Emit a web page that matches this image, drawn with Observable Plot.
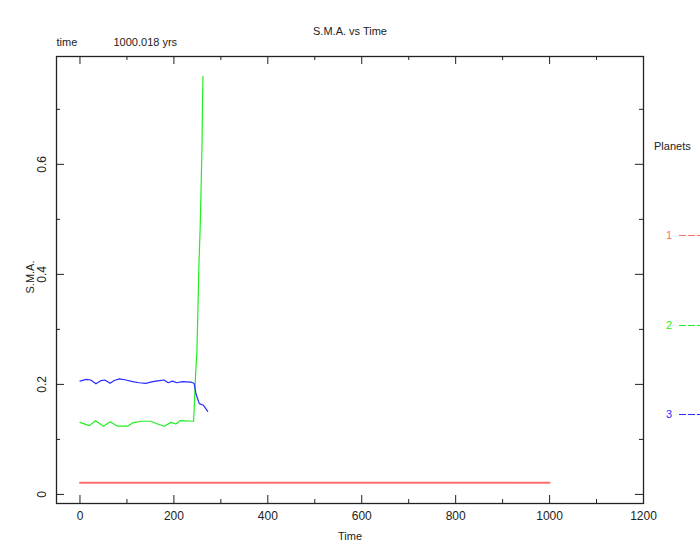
<!DOCTYPE html>
<html>
<head>
<meta charset="utf-8">
<script src="https://cdn.jsdelivr.net/npm/d3@7"></script>
<script src="https://cdn.jsdelivr.net/npm/@observablehq/plot@0.6"></script>
<style>
  body { margin: 0; background: #fff; }
  #wrap { position: relative; width: 700px; height: 560px; font-family: "Liberation Sans", Arial, sans-serif; }
  #legend { position: absolute; left: 0; top: 0; width: 700px; height: 560px; pointer-events: none; font-size: 11px; color: #222; }
  .lg { position: absolute; line-height: 12px; }
  .dash { position: absolute; }
</style>
</head>
<body>
<div id="wrap"><div id="legend"></div></div>
<script>
// ---- data ----
const planets = ["1", "2", "3"];
const planetColors = ["#ff6e6e", "#22ee22", "#2a2aff"];

const p1Time = [0, 250, 500, 750, 1000];
const p1Sma  = [0.021, 0.021, 0.021, 0.021, 0.021];

const p2Time = [0, 20, 33, 50, 64, 80, 101, 112, 130, 151, 165, 179, 194, 204, 213, 242, 244, 246, 249, 251, 253, 256, 258, 260, 261, 262];
const p2Sma  = [0.131, 0.125, 0.134, 0.124, 0.132, 0.124, 0.124, 0.130, 0.133, 0.133, 0.128, 0.124, 0.131, 0.128, 0.134, 0.133, 0.171, 0.215, 0.260, 0.330, 0.408, 0.487, 0.562, 0.640, 0.720, 0.760];

const p3Time = [0, 13, 23, 34, 45, 53, 64, 73, 84, 98, 112, 126, 140, 155, 169, 179, 188, 197, 206, 218, 236, 243, 247, 254, 263, 272];
const p3Sma  = [0.206, 0.209, 0.208, 0.201, 0.207, 0.208, 0.202, 0.207, 0.210, 0.208, 0.205, 0.203, 0.202, 0.205, 0.207, 0.208, 0.203, 0.206, 0.203, 0.205, 0.204, 0.202, 0.183, 0.165, 0.162, 0.151];

const xMajor = [0, 200, 400, 600, 800, 1000, 1200];
const xMinor = [100, 300, 500, 700, 900, 1100];
const yMajor = [0, 0.2, 0.4, 0.6];
const yMinor = [0.1, 0.3, 0.5, 0.7];
const yLabels = ["0", "0.2", "0.4", "0.6"];

const titleText = "S.M.A. vs Time";
const timeWord = "time";
const timeValue = "1000.018 yrs";
const xLabel = "Time";
const yLabel = "S.M.A.";
const legendTitle = "Planets";

// ---- build table ----
const rows = [];
[[p1Time, p1Sma], [p2Time, p2Sma], [p3Time, p3Sma]].forEach(([t, a], i) => {
  t.forEach((tt, j) => rows.push({planet: planets[i], t: tt, a: a[j]}));
});

const W = 700, H = 560;
const mL = 56, mR = 57, mT = 56, mB = 57;
const fw = W - mL - mR, fh = H - mT - mB;
const ink = "#222";

const chart = Plot.plot({
  width: W, height: H,
  marginLeft: mL, marginRight: mR, marginTop: mT, marginBottom: mB,
  style: {fontFamily: "'Liberation Sans', Arial, sans-serif", fontSize: "12px", color: ink, background: "#fff"},
  x: {domain: [-50, 1200], axis: null},
  y: {domain: [-0.0165, 0.796], axis: null},
  color: {domain: planets, range: planetColors},
  marks: [
    Plot.frame({stroke: ink, strokeWidth: 1.3}),
    // inward ticks bottom / top
    Plot.tickX(xMajor, {x: d => d, stroke: ink, insetTop: fh - 8}),
    Plot.tickX(xMinor, {x: d => d, stroke: ink, insetTop: fh - 4}),
    Plot.tickX(xMajor, {x: d => d, stroke: ink, insetBottom: fh - 8}),
    Plot.tickX(xMinor, {x: d => d, stroke: ink, insetBottom: fh - 4}),
    // inward ticks left / right
    Plot.tickY(yMajor, {y: d => d, stroke: ink, insetRight: fw - 8}),
    Plot.tickY(yMinor, {y: d => d, stroke: ink, insetRight: fw - 4}),
    Plot.tickY(yMajor, {y: d => d, stroke: ink, insetLeft: fw - 8}),
    Plot.tickY(yMinor, {y: d => d, stroke: ink, insetLeft: fw - 4}),
    // tick labels
    Plot.text(xMajor, {x: d => d, text: d => String(d), frameAnchor: "bottom", dy: 13, lineAnchor: "middle", fill: ink, fontSize: 12}),
    Plot.text(yMajor, {y: d => d, text: (d, i) => yLabels[i], frameAnchor: "left", dx: -14, rotate: -90, textAnchor: "middle", lineAnchor: "middle", fill: ink, fontSize: 12}),
    // data lines
    Plot.line(rows, {x: "t", y: "a", z: "planet", stroke: "planet", strokeWidth: d => d.planet === "1" ? 2 : 1.2}),
    // titles
    Plot.text([titleText], {text: d => d, frameAnchor: "top", dy: -25, lineAnchor: "middle", fill: ink, fontSize: 11}),
    Plot.text([timeWord], {text: d => d, frameAnchor: "top-left", dy: -14, textAnchor: "start", lineAnchor: "middle", fill: ink, fontSize: 11}),
    Plot.text([timeValue], {text: d => d, frameAnchor: "top-left", dx: 57, dy: -14, textAnchor: "start", lineAnchor: "middle", fill: ink, fontSize: 11}),
    Plot.text([xLabel], {text: d => d, frameAnchor: "bottom", dy: 33, lineAnchor: "middle", fill: ink, fontSize: 11}),
    Plot.text([yLabel], {text: d => d, frameAnchor: "left", dx: -26, dy: -3, rotate: -90, textAnchor: "middle", lineAnchor: "middle", fill: ink, fontSize: 11})
  ]
});
document.getElementById("wrap").prepend(chart);
chart.style.position = "absolute"; chart.style.left = "0"; chart.style.top = "0";

// ---- legend (right side) ----
const legend = document.getElementById("legend");
const lt = document.createElement("div");
lt.className = "lg"; lt.textContent = legendTitle;
lt.style.left = "654px"; lt.style.top = "140px";
legend.appendChild(lt);
const ns = "http://www.w3.org/2000/svg";
planets.forEach((p, i) => {
  const yc = Math.round(235 + i * 89.5);
  const n = document.createElement("div");
  n.className = "lg"; n.textContent = p; n.style.color = planetColors[i];
  n.style.left = "666px"; n.style.top = (yc - 6) + "px";
  legend.appendChild(n);
  const s = document.createElementNS(ns, "svg");
  s.setAttribute("class", "dash");
  s.setAttribute("width", "24"); s.setAttribute("height", "3");
  s.style.left = "679px"; s.style.top = (yc - 1) + "px";
  const l = document.createElementNS(ns, "line");
  l.setAttribute("x1", "0"); l.setAttribute("x2", "24");
  l.setAttribute("y1", "1.5"); l.setAttribute("y2", "1.5");
  l.setAttribute("stroke", planetColors[i]);
  l.setAttribute("stroke-width", "1.2");
  l.setAttribute("shape-rendering", "crispEdges");
  l.setAttribute("stroke-dasharray", "6.5,2.5");
  s.appendChild(l);
  legend.appendChild(s);
});
</script>
</body>
</html>
